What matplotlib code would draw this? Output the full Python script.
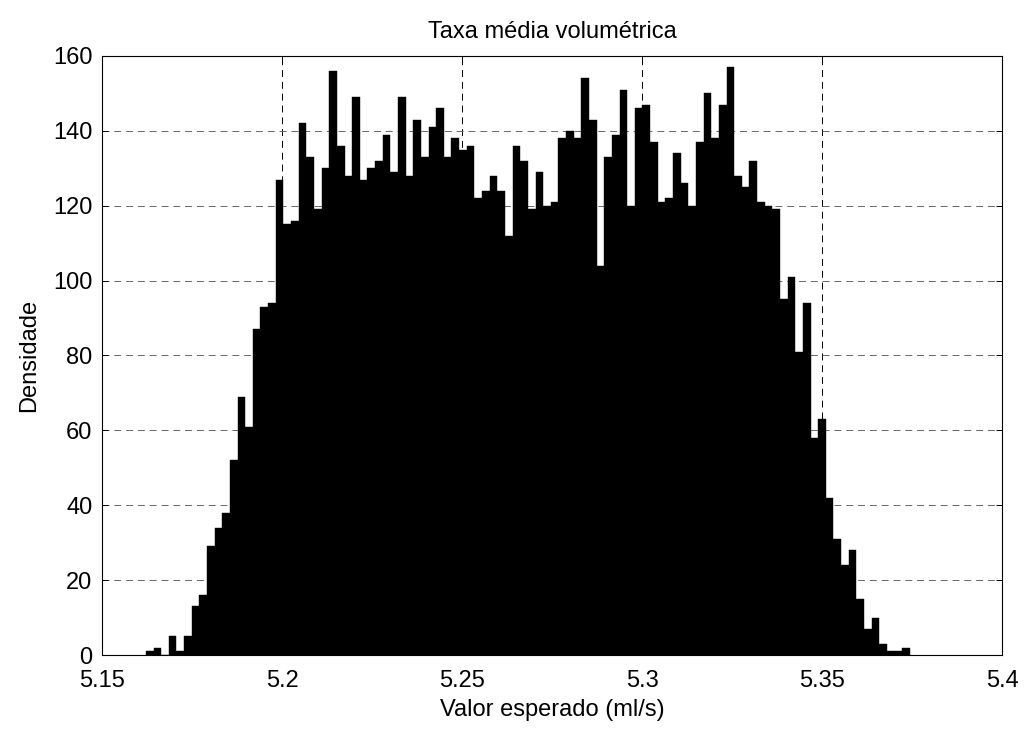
import numpy as np
import matplotlib
matplotlib.use("Agg")
import matplotlib.pyplot as plt

plt.rcParams['font.family'] = ['Liberation Sans', 'DejaVu Sans']
plt.rcParams['lines.scale_dashes'] = False

# histogram counts, 100 bins between min and max of the sample
counts = [1, 2, 0, 5, 1, 5, 13, 16, 29, 34,
          38, 52, 69, 61, 87, 93, 94, 127, 115, 116,
          142, 133, 119, 130, 156, 136, 128, 149, 127, 130,
          132, 139, 129, 149, 128, 143, 133, 141, 146, 133,
          138, 135, 136, 122, 124, 128, 124, 112, 136, 132,
          119, 129, 120, 121, 138, 140, 138, 154, 143, 104,
          133, 139, 151, 120, 146, 147, 137, 121, 122, 134,
          126, 120, 137, 150, 138, 147, 157, 128, 125, 132,
          121, 120, 119, 95, 101, 81, 94, 58, 63, 42,
          31, 24, 28, 15, 7, 10, 3, 1, 1, 2]
x_min, x_max = 5.1622, 5.3744
x_ticks = [5.15, 5.2, 5.25, 5.3, 5.35, 5.4]
x_ticklabels = ['5.15', '5.2', '5.25', '5.3', '5.35', '5.4']
y_ticks = [0, 20, 40, 60, 80, 100, 120, 140, 160]

edges = np.linspace(x_min, x_max, len(counts) + 1)
centers = (edges[:-1] + edges[1:]) / 2
width = edges[1] - edges[0]

fig = plt.figure(figsize=(10.29, 7.29), dpi=100)
ax = fig.add_axes([0.0991, 0.1015, 0.8747, 0.8217])

ax.bar(centers, counts, width=width, color='k', edgecolor='k', linewidth=0.3, zorder=2)

ax.set_xlim(5.15, 5.4)
ax.set_ylim(0, 160)
ax.set_xticks(x_ticks)
ax.set_xticklabels(x_ticklabels)
ax.set_yticks(y_ticks)

ax.set_axisbelow(True)
ax.xaxis.grid(True, color='k', linestyle=(0, (5, 3.5)), linewidth=0.7)
ax.yaxis.grid(True, color='0.4', linestyle=(0, (5, 3.5)), linewidth=0.7)

ax.tick_params(direction='in', length=4, width=0.7, top=True, right=True,
               labelsize=17)
ax.tick_params(axis='x', pad=11)
ax.tick_params(axis='y', pad=7)
for s in ax.spines.values():
    s.set_linewidth(0.8)

ax.set_title('Taxa média volumétrica', fontsize=17, pad=13)
ax.set_xlabel('Valor esperado (ml/s)', fontsize=17, labelpad=5)
ax.set_ylabel('Densidade', fontsize=17, labelpad=9)

fig.savefig('out.png', dpi=100)
